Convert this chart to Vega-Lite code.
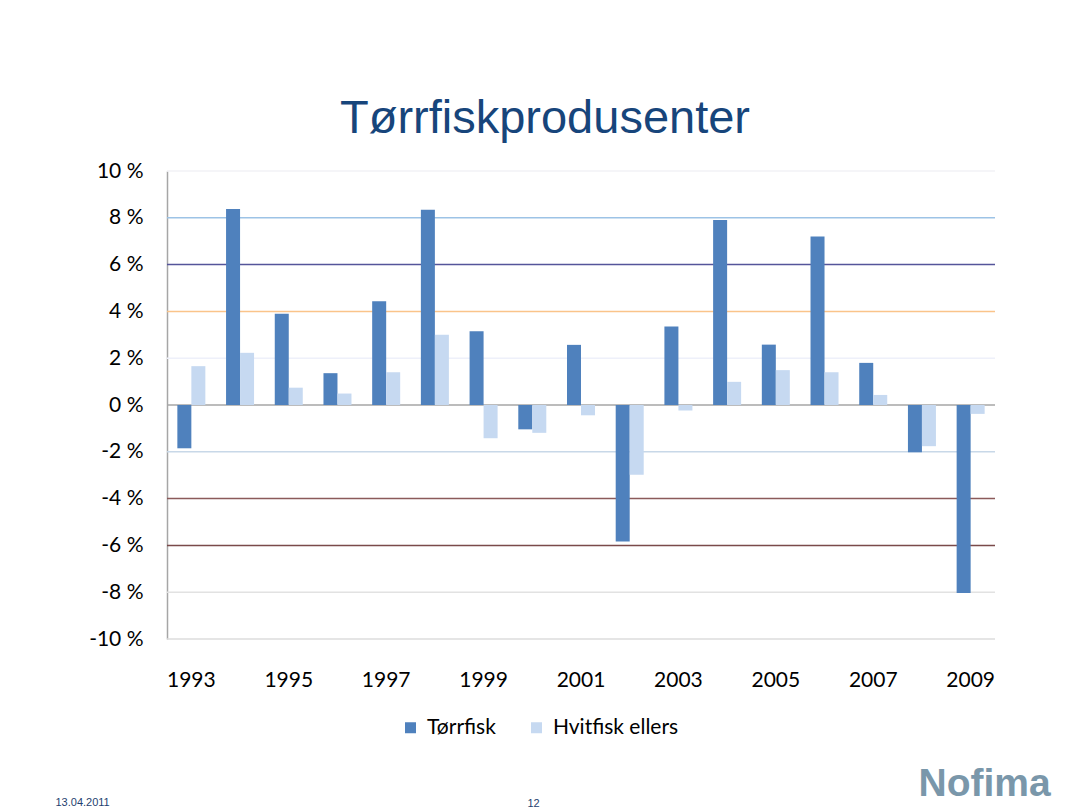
{
  "$schema": "https://vega.github.io/schema/vega-lite/v6.json",
  "width": 828,
  "height": 468,
  "autosize": "none",
  "padding": {"left": 167, "top": 171, "right": 77, "bottom": 171},
  "background": "white",
  "title": {
    "text": "Tørrfiskprodusenter",
    "font": "Liberation Sans",
    "fontSize": 47,
    "fontWeight": "normal",
    "color": "#17457B",
    "anchor": "middle",
    "frame": "group",
    "dx": -36,
    "offset": 17
  },
  "datasets": {
    "bars": [
      {"year": 1993, "series": "Tørrfisk", "value": -1.85},
      {"year": 1993, "series": "Hvitfisk ellers", "value": 1.66},
      {"year": 1994, "series": "Tørrfisk", "value": 8.38},
      {"year": 1994, "series": "Hvitfisk ellers", "value": 2.23},
      {"year": 1995, "series": "Tørrfisk", "value": 3.9},
      {"year": 1995, "series": "Hvitfisk ellers", "value": 0.74},
      {"year": 1996, "series": "Tørrfisk", "value": 1.36},
      {"year": 1996, "series": "Hvitfisk ellers", "value": 0.49},
      {"year": 1997, "series": "Tørrfisk", "value": 4.43},
      {"year": 1997, "series": "Hvitfisk ellers", "value": 1.4},
      {"year": 1998, "series": "Tørrfisk", "value": 8.34},
      {"year": 1998, "series": "Hvitfisk ellers", "value": 3.0},
      {"year": 1999, "series": "Tørrfisk", "value": 3.15},
      {"year": 1999, "series": "Hvitfisk ellers", "value": -1.42},
      {"year": 2000, "series": "Tørrfisk", "value": -1.04},
      {"year": 2000, "series": "Hvitfisk ellers", "value": -1.19},
      {"year": 2001, "series": "Tørrfisk", "value": 2.57},
      {"year": 2001, "series": "Hvitfisk ellers", "value": -0.44},
      {"year": 2002, "series": "Tørrfisk", "value": -5.83},
      {"year": 2002, "series": "Hvitfisk ellers", "value": -2.98},
      {"year": 2003, "series": "Tørrfisk", "value": 3.35},
      {"year": 2003, "series": "Hvitfisk ellers", "value": -0.23},
      {"year": 2004, "series": "Tørrfisk", "value": 7.91},
      {"year": 2004, "series": "Hvitfisk ellers", "value": 0.99},
      {"year": 2005, "series": "Tørrfisk", "value": 2.58},
      {"year": 2005, "series": "Hvitfisk ellers", "value": 1.49},
      {"year": 2006, "series": "Tørrfisk", "value": 7.2},
      {"year": 2006, "series": "Hvitfisk ellers", "value": 1.4},
      {"year": 2007, "series": "Tørrfisk", "value": 1.8},
      {"year": 2007, "series": "Hvitfisk ellers", "value": 0.43},
      {"year": 2008, "series": "Tørrfisk", "value": -2.02},
      {"year": 2008, "series": "Hvitfisk ellers", "value": -1.76},
      {"year": 2009, "series": "Tørrfisk", "value": -8.03},
      {"year": 2009, "series": "Hvitfisk ellers", "value": -0.38}
    ],
    "grid": [
      {"level": 10}, {"level": 8}, {"level": 6}, {"level": 4}, {"level": 2},
      {"level": 0}, {"level": -2}, {"level": -4}, {"level": -6}, {"level": -8}, {"level": -10}
    ]
  },
  "layer": [
    {
      "data": {"name": "grid"},
      "mark": {"type": "rule", "strokeWidth": 1.5},
      "encoding": {
        "y": {
          "field": "level",
          "type": "quantitative",
          "scale": {"domain": [-10, 10], "nice": false},
          "axis": {
            "orient": "right",
            "labels": false,
            "ticks": false,
            "domain": false,
            "grid": false,
            "title": "12",
            "titleAngle": 0,
            "titleFont": "Liberation Sans",
            "titleFontSize": 11,
            "titleFontWeight": "normal",
            "titleColor": "#1F3F6F",
            "titleAlign": "left",
            "titleBaseline": "alphabetic",
            "titleX": -468,
            "titleY": 635
          }
        },
        "stroke": {
          "field": "level",
          "type": "nominal",
          "scale": {
            "domain": [10, 8, 6, 4, 2, 0, -2, -4, -6, -8, -10],
            "range": ["#F2F2F6", "#9DC3E6", "#55559A", "#FAC48A", "#EEF0FA", "#A6A6A6", "#C8D8E8", "#8B5A5A", "#7A4A4A", "#E2E2E2", "#DCDCDC"]
          },
          "legend": null
        }
      }
    },
    {
      "data": {"name": "bars"},
      "mark": {"type": "bar"},
      "encoding": {
        "x": {
          "field": "year",
          "type": "ordinal",
          "scale": {"paddingInner": 0.425, "paddingOuter": 0.2125},
          "axis": {
            "values": [1993, 1995, 1997, 1999, 2001, 2003, 2005, 2007, 2009],
            "labelAngle": 0,
            "labelFont": "Lato",
            "labelFontSize": 21,
            "labelColor": "#000000",
            "labelPadding": 30,
            "ticks": false,
            "tickSize": 0,
            "domain": false,
            "grid": false,
            "title": "13.04.2011",
            "titleFont": "Liberation Sans",
            "titleFontSize": 11,
            "titleFontWeight": "normal",
            "titleColor": "#1F3F6F",
            "titleAlign": "left",
            "titleBaseline": "alphabetic",
            "titleX": -112,
            "titleY": 166
          }
        },
        "xOffset": {
          "field": "series",
          "type": "nominal",
          "scale": {"domain": ["Tørrfisk", "Hvitfisk ellers"]}
        },
        "y": {
          "field": "value",
          "type": "quantitative",
          "scale": {"domain": [-10, 10], "nice": false},
          "axis": {
            "orient": "left",
            "values": [-10, -8, -6, -4, -2, 0, 2, 4, 6, 8, 10],
            "labelExpr": "datum.value + ' %'",
            "labelFont": "Lato",
            "labelFontSize": 21,
            "labelColor": "#000000",
            "labelPadding": 24,
            "ticks": false,
            "tickSize": 0,
            "domain": true,
            "domainColor": "#A6A6A6",
            "domainWidth": 1.5,
            "grid": false,
            "title": "Nofima",
            "titleAngle": 0,
            "titleFont": "Liberation Sans",
            "titleFontSize": 39,
            "titleFontWeight": "bold",
            "titleColor": "#7A97AA",
            "titleAlign": "left",
            "titleBaseline": "alphabetic",
            "titleX": 751,
            "titleY": 624
          }
        },
        "fill": {
          "field": "series",
          "type": "nominal",
          "scale": {"domain": ["Tørrfisk", "Hvitfisk ellers"], "range": ["#4F81BD", "#C6D9F1"]},
          "legend": {
            "title": null,
            "orient": "none",
            "direction": "horizontal",
            "legendX": 233,
            "legendY": 546,
            "padding": 0,
            "symbolType": "square",
            "symbolSize": 121,
            "symbolStrokeWidth": 0,
            "labelFont": "Lato",
            "labelFontSize": 21,
            "labelColor": "#000000",
            "labelOffset": 6,
            "columnPadding": 30
          }
        }
      }
    }
  ],
  "resolve": {"axis": {"y": "independent"}},
  "config": {
    "view": {"stroke": null}
  }
}
